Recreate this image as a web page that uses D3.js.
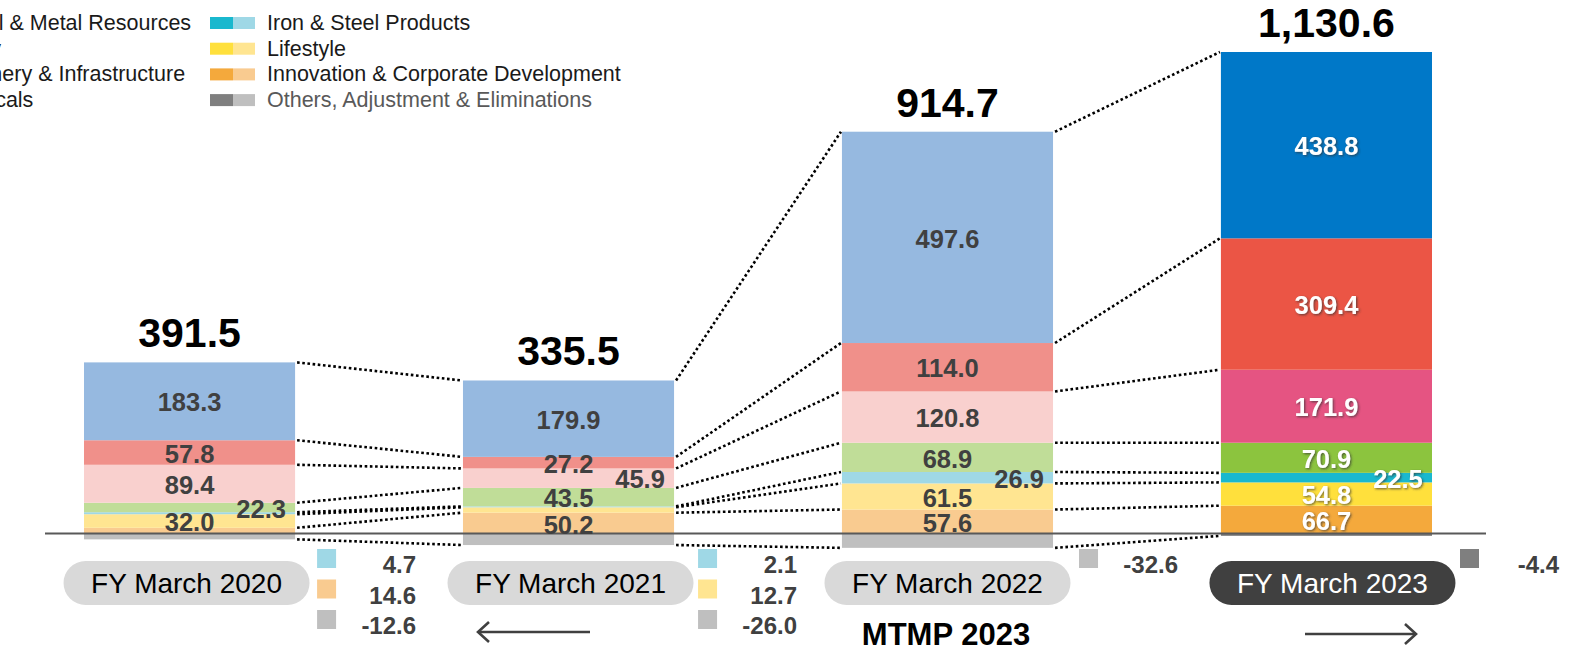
<!DOCTYPE html>
<html lang="en">
<head>
<meta charset="utf-8">
<title>Profit by segment</title>
<script src="https://d3js.org/d3.v7.min.js"></script>
<style>
  body { margin: 0; background: #ffffff; }
  svg { display: block; font-family: "Liberation Sans", Arial, sans-serif; }
</style>
</head>
<body>
<svg width="1573" height="649"></svg>
<script>
// data
var years = ["FY March 2020", "FY March 2021", "FY March 2022", "FY March 2023"];
var segments = ["Mineral & Metal Resources", "Energy", "Machinery & Infrastructure", "Chemicals",
                "Iron & Steel Products", "Lifestyle", "Innovation & Corporate Development",
                "Others, Adjustment & Eliminations"];
var mineral    = [183.3, 179.9, 497.6, 438.8];
var energy     = [57.8, 27.2, 114.0, 309.4];
var machinery  = [89.4, 45.9, 120.8, 171.9];
var chemicals  = [22.3, 43.5, 68.9, 70.9];
var ironSteel  = [4.7, 2.1, 26.9, 22.5];
var lifestyle  = [32.0, 12.7, 61.5, 54.8];
var innovation = [14.6, 50.2, 57.6, 66.7];
var others     = [-12.6, -26.0, -32.6, -4.4];
var totals     = [391.5, 335.5, 914.7, 1130.6];
var periodLabel = "MTMP 2023";

// c = in bar, r = right side of bar, s = beside bar
var labelPos = [
  ["c", "c", "c", "r", "s", "c", "s", "s"],
  ["c", "c", "r", "c", "s", "s", "c", "s"],
  ["c", "c", "c", "c", "r", "c", "c", "s"],
  ["c", "c", "c", "c", "r", "c", "c", "s"]
];

var darkCol  = ["#0078c8", "#eb5545", "#e55482", "#8cc43e", "#19b8ce", "#ffe03c", "#f4a93c", "#7f7f7f"];
var lightCol = ["#96b9e0", "#f0908a", "#f9d0ce", "#c0dd98", "#9fd8e6", "#ffe591", "#f9cb90", "#bfbfbf"];

var seriesValues = [mineral, energy, machinery, chemicals, ironSteel, lifestyle, innovation, others];

var svg = d3.select("svg");

var defs = svg.append("defs");
defs.append("filter").attr("id", "shadow")
    .attr("x", "-20%").attr("y", "-20%").attr("width", "140%").attr("height", "140%")
  .append("feDropShadow")
    .attr("dx", 1.2).attr("dy", 1.2).attr("stdDeviation", 0.8)
    .attr("flood-color", "#333").attr("flood-opacity", 0.7);

var x = d3.scaleBand().domain(years).range([84, 1432]).paddingInner(0.443).paddingOuter(0);
var y = d3.scaleLinear().domain([0, 1135]).range([534, 52]);
var bw = x.bandwidth();

var rows = years.map(function(yr, i) {
  var r = {year: yr};
  segments.forEach(function(s, k) { r[s] = seriesValues[k][i]; });
  return r;
});

var stacked = d3.stack()
    .keys(segments.slice().reverse())
    .offset(d3.stackOffsetDiverging)(rows);

function segIndex(key) { return segments.indexOf(key); }
function isLast(i) { return i === years.length - 1; }

// bars
var gBars = svg.append("g");
stacked.forEach(function(ser) {
  var k = segIndex(ser.key);
  gBars.selectAll(null)
    .data(ser)
    .enter().append("rect")
    .attr("x", function(d) { return x(d.data.year); })
    .attr("y", function(d) { return y(Math.max(d[0], d[1])); })
    .attr("width", bw)
    .attr("height", function(d) { return Math.abs(y(d[0]) - y(d[1])); })
    .attr("fill", function(d, i) { return isLast(i) ? darkCol[k] : lightCol[k]; });
});

// dotted connectors
var gLinks = svg.append("g")
    .attr("stroke", "#000").attr("stroke-width", 2.6).attr("stroke-dasharray", "2.6 2.6").attr("fill", "none");
stacked.forEach(function(ser) {
  for (var i = 0; i < years.length - 1; i++) {
    var a = ser[i], b = ser[i + 1];
    var va = a.data[ser.key] >= 0 ? a[1] : a[0];
    var vb = b.data[ser.key] >= 0 ? b[1] : b[0];
    gLinks.append("line")
      .attr("x1", x(years[i]) + bw + 2).attr("y1", y(va))
      .attr("x2", x(years[i + 1]) - 1).attr("y2", y(vb));
  }
});

// zero line
svg.append("line")
    .attr("x1", 45).attr("x2", 1486)
    .attr("y1", y(0) - 0.5).attr("y2", y(0) - 0.5)
    .attr("stroke", "#595959").attr("stroke-width", 2);

// values inside / beside bars
var gLab = svg.append("g").attr("font-weight", "bold").attr("text-anchor", "middle");
stacked.forEach(function(ser) {
  var k = segIndex(ser.key);
  ser.forEach(function(d, i) {
    var mode = labelPos[i][k];
    if (mode === "s") return;
    var cx = mode === "c" ? x(d.data.year) + bw / 2 : x(d.data.year) + bw - 34;
    var t = gLab.append("text")
      .attr("x", cx)
      .attr("y", y((d[0] + d[1]) / 2) + 1)
      .attr("dy", "0.36em")
      .attr("font-size", 25.5)
      .attr("fill", isLast(i) ? "#ffffff" : "#404040")
      .text(d3.format(".1f")(d.data[ser.key]));
    if (isLast(i)) t.attr("filter", "url(#shadow)");
  });
});

// side annotations
years.forEach(function(yr, i) {
  var items = [];
  segments.forEach(function(s, k) { if (labelPos[i][k] === "s") items.push(k); });
  var sx = x(yr) + bw + 22 + i * 2;
  items.forEach(function(k, r) {
    var sy = 549 + r * 30.5;
    svg.append("rect")
      .attr("x", sx).attr("y", sy).attr("width", 19).attr("height", 19)
      .attr("fill", isLast(i) ? darkCol[k] : lightCol[k]);
    svg.append("text")
      .attr("x", sx + 99).attr("y", sy + 24)
      .attr("text-anchor", "end")
      .attr("font-size", 24).attr("font-weight", "bold").attr("fill", "#404040")
      .text(d3.format(".1f")(seriesValues[k][i]).replace("\u2212", "-"));
  });
});

// totals
svg.append("g").selectAll("text")
  .data(years)
  .enter().append("text")
  .attr("x", function(d) { return x(d) + bw / 2; })
  .attr("y", function(d, i) { return y(d3.sum(seriesValues, function(v) { return Math.max(v[i], 0); })) - 15; })
  .attr("text-anchor", "middle")
  .attr("font-size", 41).attr("font-weight", "bold").attr("fill", "#000")
  .text(function(d, i) { return d3.format(",.1f")(totals[i]); });

// year pills
var pillShift = [-3, 2, 0, 6];
var pills = svg.append("g").selectAll("g")
  .data(years)
  .enter().append("g")
  .attr("transform", function(d, i) { return "translate(" + (x(d) + bw / 2 + pillShift[i]) + ",583)"; });
pills.append("rect")
  .attr("x", -123).attr("y", -22).attr("width", 246).attr("height", 44)
  .attr("rx", 22).attr("ry", 22)
  .attr("fill", function(d, i) { return isLast(i) ? "#404040" : "#d9d9d9"; });
pills.append("text")
  .attr("text-anchor", "middle").attr("dy", "0.36em")
  .attr("font-size", 28)
  .attr("fill", function(d, i) { return isLast(i) ? "#ffffff" : "#000000"; })
  .text(function(d) { return d; });

// plan period label and arrows
svg.append("text")
  .attr("x", 946).attr("y", 645)
  .attr("text-anchor", "middle")
  .attr("font-size", 31).attr("font-weight", "bold").attr("fill", "#000")
  .text(periodLabel);

var gArr = svg.append("g").attr("stroke", "#404040").attr("stroke-width", 2.6).attr("fill", "none");
gArr.append("line").attr("x1", 478).attr("x2", 590).attr("y1", 632).attr("y2", 632);
gArr.append("path").attr("d", "M489,622 L478,632 L489,642");
gArr.append("line").attr("x1", 1305).attr("x2", 1416).attr("y1", 634).attr("y2", 634);
gArr.append("path").attr("d", "M1405,624 L1416,634 L1405,644");

// legend (left column runs off the page edge)
var legend = svg.append("g").attr("font-size", 21.5);
segments.forEach(function(s, k) {
  var col = k < 4 ? 0 : 1;
  var row = k % 4;
  var sx = col === 0 ? -124 : 210;
  var cy = 23 + row * 25.7;
  legend.append("rect").attr("x", sx).attr("y", cy - 6).attr("width", 23).attr("height", 12).attr("fill", darkCol[k]);
  legend.append("rect").attr("x", sx + 23).attr("y", cy - 6).attr("width", 22).attr("height", 12).attr("fill", lightCol[k]);
  legend.append("text")
    .attr("x", sx + 57).attr("y", cy + 7)
    .attr("fill", k === 7 ? "#595959" : "#1a1a1a")
    .text(s);
});
</script>
</body>
</html>
